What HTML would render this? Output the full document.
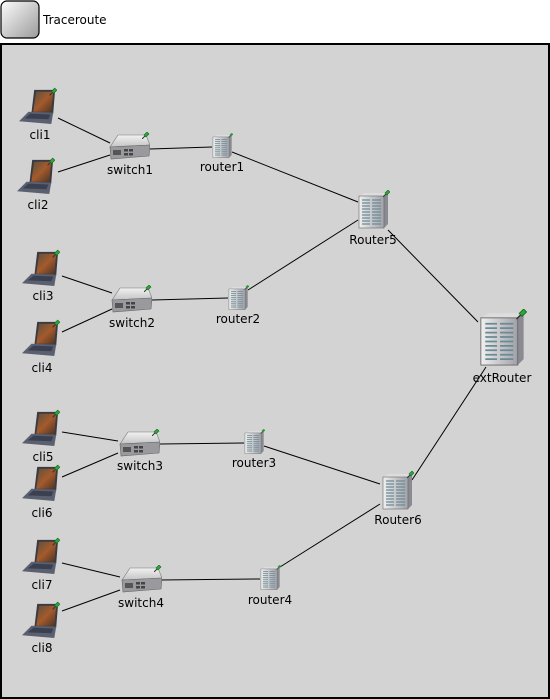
<!DOCTYPE html>
<html><head><meta charset="utf-8"><style>
html,body{margin:0;padding:0;background:#fff;width:550px;height:699px;overflow:hidden}
text{font-family:"DejaVu Sans","Liberation Sans",sans-serif;font-size:12px;fill:#000}
</style></head><body>
<svg width="550" height="699" viewBox="0 0 550 699" xmlns="http://www.w3.org/2000/svg">
<defs>
<linearGradient id="btn" x1="0" y1="0" x2="1" y2="1"><stop offset="0" stop-color="#fdfdfd"/><stop offset="1" stop-color="#9a9a9a"/></linearGradient>
<linearGradient id="scr" x1="0" y1="0" x2="1" y2="1"><stop offset="0" stop-color="#5a5040"/><stop offset="0.5" stop-color="#a45a2c"/><stop offset="1" stop-color="#4a3424"/></linearGradient>
<linearGradient id="srv" x1="0" y1="0" x2="1" y2="0"><stop offset="0" stop-color="#f0f0f0"/><stop offset="1" stop-color="#a0a0a8"/></linearGradient>
<linearGradient id="swt" x1="0" y1="0" x2="0" y2="1"><stop offset="0" stop-color="#f2f2f2"/><stop offset="1" stop-color="#c4c4c4"/></linearGradient>
<symbol id="pin" viewBox="0 0 8 8"><path d="M0 8 L3 5" stroke="#333" stroke-width="1"/><path d="M2 4 L5 1 L7 3 L4 6 Z" fill="#2aa83a" stroke="#156b1f" stroke-width="0.6"/></symbol>
<symbol id="lap" viewBox="0 0 40 40">
<polygon points="16,3 38,3 36,28 13,28" fill="#3a3a40"/>
<polygon points="18,5 36,5 34,26 15,26" fill="url(#scr)"/>
<polygon points="10,26 36,27 34,39 0,36" fill="#5a6070"/>
<polygon points="12,28 33,29 31,34 6,33" fill="#3a4050"/>
<use href="#pin" x="32" y="0" width="9" height="9"/>
</symbol>
<symbol id="sw" viewBox="0 0 42 28">
<polygon points="10,3 38,3 42,13 2,15" fill="url(#swt)" stroke="#777" stroke-width="0.6"/>
<polygon points="2,15 42,13 41,24 3,27" fill="#9a9a9e" stroke="#666" stroke-width="0.6"/>
<rect x="5" y="18" width="8" height="5" fill="#555"/><rect x="16" y="17" width="4" height="2.5" fill="#444"/><rect x="21" y="17" width="4" height="2.5" fill="#444"/><rect x="16" y="21" width="4" height="2.5" fill="#444"/><rect x="21" y="21" width="4" height="2.5" fill="#444"/>
<use href="#pin" x="34" y="-1" width="8" height="8"/>
</symbol>
<symbol id="srvs" viewBox="0 0 34 40">
<polygon points="3,6 28,6 32,3 32,34 28,38 3,38" fill="#8a8a92"/>
<polygon points="3,6 8,3 32,3 28,6" fill="#ddd"/>
<rect x="3" y="6" width="25" height="32" fill="url(#srv)" stroke="#666" stroke-width="0.6"/>
<g stroke="#6a8a94" stroke-width="1.2">
<path d="M6 10H14M16 10H25M6 13H14M16 13H25M6 16H14M16 16H25M6 19H14M16 19H25M6 22H14M16 22H25M6 25H14M16 25H25M6 28H14M16 28H25M6 31H14M16 31H25M6 34H14M16 34H25"/>
</g>
<use href="#pin" x="27" y="-1" width="8" height="8"/>
</symbol>
</defs>
<rect x="1" y="1" width="38" height="37" rx="6" fill="url(#btn)" stroke="#000" stroke-width="1.2"/>
<text x="43" y="24">Traceroute</text>
<rect x="1" y="44" width="548" height="654" fill="#d3d3d3" stroke="#000" stroke-width="2"/>
<g stroke="#000" stroke-width="1" fill="none">
<path d="M58 118 L110 143"/><path d="M58 172 L110 155"/>
<path d="M150 149 L212 147"/><path d="M232 152 L358 202"/>
<path d="M62 276 L112 293"/><path d="M62 332 L112 309"/>
<path d="M152 300 L228 298"/><path d="M248 290 L358 220"/>
<path d="M388 230 L478 322"/><path d="M412 480 L486 367"/>
<path d="M62 432 L118 441"/><path d="M62 477 L118 453"/>
<path d="M160 444 L244 443"/><path d="M264 446 L380 484"/>
<path d="M62 563 L120 577"/><path d="M62 611 L120 590"/>
<path d="M160 580 L260 579"/><path d="M280 567 L380 504"/>
</g>
<use href="#lap" x="19" y="86" width="38" height="40"/>
<use href="#lap" x="17" y="156" width="38" height="40"/>
<use href="#lap" x="22" y="248" width="38" height="40"/>
<use href="#lap" x="22" y="318" width="38" height="40"/>
<use href="#lap" x="22" y="408" width="38" height="40"/>
<use href="#lap" x="22" y="463" width="38" height="40"/>
<use href="#lap" x="22" y="536" width="38" height="40"/>
<use href="#lap" x="22" y="600" width="38" height="40"/>
<use href="#sw" x="108" y="132" width="42" height="28"/>
<use href="#sw" x="110" y="285" width="42" height="28"/>
<use href="#sw" x="118" y="429" width="42" height="28"/>
<use href="#sw" x="120" y="565" width="42" height="28"/>
<use href="#srvs" x="211" y="133" width="22" height="26"/>
<use href="#srvs" x="227" y="285" width="22" height="26"/>
<use href="#srvs" x="243" y="429" width="22" height="26"/>
<use href="#srvs" x="259" y="565" width="22" height="26"/>
<use href="#srvs" x="356" y="190" width="34" height="40"/>
<use href="#srvs" x="380" y="471" width="34" height="40"/>
<use href="#srvs" x="476" y="309" width="51" height="59"/>
<g text-anchor="middle">
<text x="40" y="139">cli1</text><text x="38" y="209">cli2</text>
<text x="43" y="300">cli3</text><text x="42" y="372">cli4</text>
<text x="43" y="461">cli5</text><text x="42" y="517">cli6</text>
<text x="42" y="589">cli7</text><text x="42" y="652">cli8</text>
<text x="130" y="174">switch1</text><text x="132" y="327">switch2</text>
<text x="140" y="470">switch3</text><text x="141" y="607">switch4</text>
<text x="222" y="171">router1</text><text x="238" y="323">router2</text>
<text x="254" y="467">router3</text><text x="270" y="604">router4</text>
<text x="373" y="244">Router5</text><text x="398" y="524">Router6</text>
<text x="502" y="382">extRouter</text>
</g>
</svg>
</body></html>
